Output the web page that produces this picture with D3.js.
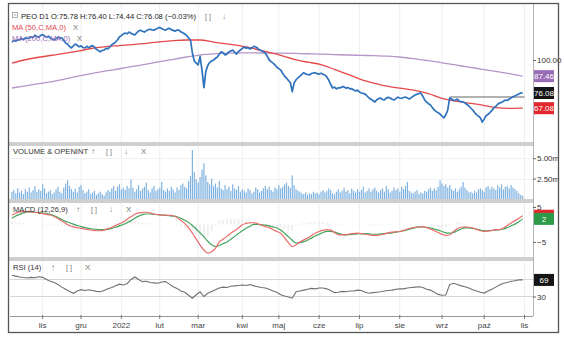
<!DOCTYPE html>
<html>
<head>
<meta charset="utf-8">
<script src="https://cdn.jsdelivr.net/npm/d3@7/dist/d3.min.js"></script>
<style>
  html, body { margin: 0; padding: 0; background: #fff; }
  svg { display: block; font-family: "Liberation Sans", Arial, sans-serif; }
</style>
</head>
<body>
<svg id="chart" width="564" height="339"></svg>
<script>
// ---------------- data ----------------
const ticker = "PEO";
const interval = "D1";
const lastOpen = 75.78, lastHigh = 76.40, lastLow = 74.44, lastChangePct = -0.03;
const startDate = "2021-10-08";
// Warsaw exchange sessions without trading
const holidays = ["2021-11-01", "2021-11-11", "2021-12-24", "2021-12-31", "2022-01-06",
  "2022-04-15", "2022-04-18", "2022-05-03", "2022-06-16", "2022-08-15", "2022-11-01", "2022-11-11"];
const monthLabels = ["lis", "gru", "2022", "lut", "mar", "kwi", "maj", "cze", "lip", "sie", "wrz", "paź", "lis"];

// daily closes
const close = [
  116, 117.5, 116.8, 118.2, 118, 119.5, 118.4, 120.1, 119.6, 120,
  121.2, 120.5, 122.8, 121.4, 120.9, 122.5, 123.4, 122, 120.6, 121.8,
  119.7, 118.9, 118, 119.4, 120.8, 119.9, 120.2, 117.6, 115.1, 114,
  111.8, 110.5, 112.3, 114.1, 113, 111.6, 112.4, 110.9, 110.5, 112,
  110.8, 111.9, 112.6, 111.4, 109.2, 108.1, 107, 108.3, 108.6, 110.2,
  109.7, 111.4, 113.5, 114.6, 116, 118.3, 121, 122.4, 124.1, 125,
  124.2, 126, 124.8, 123.9, 123, 125.3, 127.2, 128, 126.9, 126,
  127.5, 128.4, 129, 128.3, 128, 129.2, 130.1, 131, 129.8, 128.7,
  128, 129.4, 130, 128.6, 127.8, 127, 128.1, 128, 126.2, 125.3,
  124, 122.5, 120.1, 118, 106, 99, 97.5, 96, 103, 92,
  79.5, 91, 95.5, 98, 99.2, 100, 101.4, 102.5, 104.8, 107,
  106.1, 104.3, 105, 106.9, 107.8, 108.6, 106.7, 105, 107.2, 108.6,
  110.1, 111.4, 110.3, 110.8, 109.5, 110.6, 112, 111.4, 110.2, 108.6,
  107.9, 107, 106, 103.1, 100, 98.6, 97.4, 96, 94.2, 93.1,
  92, 89.6, 87.5, 86.1, 84.3, 83, 77, 82.7, 84.9, 86.3,
  87.5, 88.8, 90, 89.1, 88.7, 88.3, 89.4, 89.8, 90, 89.3,
  89, 89.6, 88.9, 88.3, 86.9, 84.7, 81.8, 79.3, 79.9, 78.7,
  79.5, 79.3, 80.2, 80, 79.1, 79.6, 78.7, 78.9, 78, 77.4,
  77.9, 76.7, 76.1, 75.8, 75.4, 74.2, 73, 72.2, 71.5, 70.6,
  71.9, 72.6, 73, 72.1, 71.8, 72.9, 73.4, 73, 72.2, 71.8,
  72.6, 73.5, 73, 72.8, 73.3, 73.6, 73, 72.4, 73.2, 74.1,
  74.8, 75.3, 75.8, 76, 74.1, 71.8, 70.5, 69.6, 68.9, 67.4,
  66.1, 65.2, 64.6, 63.9, 62.8, 61.9, 63.5, 66.1, 73, 72.4,
  71.5, 71.8, 72.3, 71.2, 70.8, 70.6, 70, 69.2, 68.3, 67.2,
  66.1, 64.7, 63.6, 62.8, 61.9, 59.8, 61.4, 63, 63.8, 64.7,
  65.9, 67.2, 68.1, 69.3, 70, 70.4, 71.1, 71.8, 71.5, 72.4,
  73, 73.8, 74.2, 74.9, 75.5, 76.1, 76.08
];

// daily volume, millions of shares
const volume = [
  0.9, 1.1, 0.7, 1.3, 0.8, 1.0, 0.6, 1.2, 0.9, 1.4,
  0.8, 1.1, 1.6, 0.9, 1.2, 1.0, 1.8, 1.3, 0.7, 0.9,
  1.1, 0.6, 0.8, 1.2, 1.5, 0.9, 0.7, 1.4, 1.9, 2.3,
  1.6, 1.2, 0.9, 1.3, 0.8, 1.5, 1.7, 1.1, 0.7, 0.9,
  1.2, 0.6, 0.8, 1.0, 0.5, 0.7, 0.9, 0.6, 0.4, 0.8,
  1.1, 0.9, 1.3, 1.6, 1.0, 1.5, 1.8, 1.2, 1.4, 1.1,
  1.6, 1.3, 2.4, 1.4, 0.9, 1.2, 1.7, 1.0, 1.3, 1.5,
  2.0, 1.1, 0.8, 1.3, 1.6, 1.0, 1.2, 1.4, 2.1, 1.1,
  0.9, 1.3, 1.0, 1.5, 1.2, 0.8, 1.4, 1.1, 1.7, 1.9,
  1.5, 1.3, 2.2, 2.8, 6.0, 3.3, 2.4, 2.0, 2.7, 3.6,
  4.4, 2.9, 2.1, 1.8, 2.5, 1.6, 1.9, 1.4, 2.2, 1.3,
  1.1, 1.7, 1.2, 1.5, 1.0, 1.8, 1.3, 1.1, 1.6, 0.9,
  1.2, 1.0, 0.8, 1.3, 1.1, 0.7, 0.9, 1.4, 1.2, 0.8,
  1.0, 1.3, 1.6, 1.2, 1.5, 1.1, 0.9, 1.4, 1.2, 1.7,
  1.3, 1.5, 1.8, 2.0, 1.6, 1.4, 2.9, 1.7, 1.2, 1.0,
  0.9, 0.7, 0.6, 0.8, 0.5, 0.7, 0.6, 0.9, 0.7, 0.8,
  0.6, 0.9, 1.1, 0.8, 1.0, 1.3, 1.1, 0.7, 0.6, 0.9,
  1.2, 0.8, 1.0, 1.4, 0.9, 1.1, 0.7, 1.3, 1.0, 0.8,
  1.2, 0.9, 1.1, 1.5, 0.8, 1.0, 1.3, 0.9, 1.2, 1.4,
  1.0, 0.8, 1.1, 1.3, 0.9, 1.6, 1.2, 0.8, 1.0, 1.4,
  1.1, 1.3, 0.9, 1.5, 1.2, 1.6, 2.1, 1.0, 0.8, 0.7,
  0.9, 1.1, 0.6, 0.8, 0.7, 1.0, 0.9, 1.2, 1.4, 1.0,
  1.3, 1.1, 1.5, 2.3, 1.9, 1.6, 1.8, 1.4, 1.7, 1.2,
  1.0, 1.3, 0.9, 1.2, 1.5, 2.1, 1.4, 1.1, 0.8, 0.9,
  0.7, 1.0, 0.8, 1.2, 1.3, 1.1, 0.9, 1.4, 1.6, 1.2,
  1.5, 1.3, 1.1, 1.7, 1.4, 1.8, 1.2, 1.5, 1.6, 1.3,
  1.7, 1.4, 1.2, 1.0, 0.7, 0.5, 0.4
];

// moving averages, one value every maStep sessions
const maStep = 7;
const ma50 = [
  97.5, 100.2, 102.3, 104, 105.8, 107.8, 110.2, 111.8, 112.6, 113.5,
  114.8, 116.2, 117.4, 118, 118, 116, 114.2, 112.3, 109.8, 107,
  104, 100.5, 98.2, 96.3, 92.5, 88.8, 85, 82.4, 80.3, 79,
  77.8, 75.7, 72.8, 71.2, 70, 68.8, 67.4, 67, 67.08
];
const ma200 = [
  79.3, 80.7, 82.2, 83.6, 85.6, 87.6, 89.5, 91.3, 93, 94.8,
  96.6, 98.6, 100.6, 102.5, 104.2, 105.2, 105.8, 106, 106, 105.9,
  105.8, 105.6, 105.3, 105, 104.6, 104.2, 103.9, 103.6, 103.2, 102.3,
  101, 99.4, 97.7, 96, 94.2, 92.6, 91, 89.3, 87.46
];

// oscillators, one value every oscStep sessions
const oscStep = 2;
const macd = [
  2.7, 3.2, 3.6, 3.7, 3.7, 3.6, 3.5, 3.3, 3.1, 2.9,
  2.7, 2.3, 1.7, 1.0, 0.3, -0.3, -0.7, -0.9, -1.1, -1.3,
  -1.5, -1.7, -1.8, -1.8, -1.6, -1.2, -0.8, -0.3, 0.2, 0.7,
  1.5, 2.2, 2.9, 3.3, 3.4, 3.5, 3.3, 3.0, 2.8, 2.7,
  2.7, 2.6, 2.5, 2.0, 1.2, 0.3, -1.0, -2.5, -4.2, -5.9,
  -7.3, -8.2, -7.8, -6.8, -5.0, -4.2, -3.4, -2.5, -1.8, -1.0,
  -0.1, 0.3, 0.5, 0.5, 0.2, -0.2, -0.6, -0.9, -1.5, -2.0,
  -2.5, -3.8, -5.2, -6.3, -5.8, -5.0, -4.4, -3.9, -3.2, -2.5,
  -2.0, -1.7, -1.5, -1.6, -2.3, -2.9, -3.0, -2.9, -2.7, -2.6,
  -2.5, -2.6, -2.8, -3.0, -3.1, -3.1, -3.0, -2.7, -2.4, -2.2,
  -2.1, -2.0, -1.7, -1.3, -1.0, -0.8, -0.7, -0.6, -0.9, -1.3,
  -1.8, -2.3, -2.8, -3.1, -3.0, -2.0, -1.2, -0.8, -0.7, -0.8,
  -1.0, -1.4, -1.8, -2.0, -1.9, -1.7, -1.5, -1.5, -1.0, -0.3,
  0.4, 1.1, 1.8, 2.5
];
const signal = [
  1.8, 2.4, 2.9, 3.3, 3.6, 3.6, 3.5, 3.4, 3.3, 3.2,
  2.9, 2.5, 2.0, 1.4, 0.9, 0.5, 0.1, -0.3, -0.6, -0.9,
  -1.1, -1.3, -1.4, -1.5, -1.5, -1.4, -1.1, -0.8, -0.4, 0.0,
  0.5, 1.1, 1.8, 2.4, 2.8, 3.0, 3.0, 2.9, 2.8, 2.7,
  2.6, 2.5, 2.4, 2.2, 1.8, 1.2, 0.6, -0.3, -1.3, -2.4,
  -3.5, -4.8, -5.8, -6.3, -6.0, -5.5, -5.0, -4.2, -3.4, -2.6,
  -1.8, -1.1, -0.5, 0.0, 0.0, -0.1, -0.2, -0.4, -0.7, -1.0,
  -1.6, -2.5, -3.5, -4.5, -5.3, -5.2, -4.9, -4.5, -3.9, -3.3,
  -2.8, -2.3, -2.0, -2.0, -2.2, -2.5, -2.8, -3.0, -2.9, -2.8,
  -2.7, -2.6, -2.6, -2.7, -2.8, -2.8, -2.7, -2.6, -2.5, -2.4,
  -2.2, -2.0, -1.8, -1.5, -1.2, -0.9, -0.7, -0.7, -0.8, -1.0,
  -1.3, -1.6, -2.0, -2.4, -2.5, -2.3, -1.8, -1.3, -1.0, -1.0,
  -1.1, -1.3, -1.6, -1.8, -1.8, -1.7, -1.6, -1.5, -1.3, -0.9,
  -0.4, 0.1, 0.8, 1.6
];
const rsi = [
  80, 78, 76, 74.5, 73.5, 75, 74, 76.5, 75, 70,
  66, 63, 58, 52, 47, 42, 37.5, 43, 46, 44,
  46, 44, 42, 41, 44, 48, 51, 55, 59, 57,
  60, 70, 76, 70, 65, 66, 63, 62, 61, 64,
  65, 59, 53, 49, 43, 40, 33, 26, 34, 41,
  30, 37.5, 42, 46, 50, 52, 51, 54, 55, 56,
  57, 56, 58, 55, 53, 51, 50, 47, 43, 40,
  34, 31, 29, 26, 41, 43, 45, 47, 49, 48,
  50, 50, 48, 44, 39, 40, 42, 41, 43, 43,
  45, 44, 40, 37.5, 39, 40, 41, 43, 44, 45,
  47, 48, 48, 50, 51, 52, 53, 51, 47, 45,
  40, 35, 33, 33.5, 58, 61, 58, 55, 53, 50,
  46, 43, 40, 38, 43, 47, 52, 57, 61, 63,
  66, 67, 69, 69
];

// horizontal level drawn on the price panel
const levelValue = 73.6;
const levelFrom = "2022-09-07";
const levelTo = "2022-11-02";

const priceTicks = [100];
const volumeTicks = [2.5, 5];
const macdTicks = [5, -5];
const rsiLevels = [30, 70];
const rsiTickLabels = [30];

// ---------------- layout ----------------
const X0 = 10, X1 = 533;
const P = { top: 4, bottom: 142 };
const V = { top: 146, bottom: 199 };
const M = { top: 203, bottom: 257 };
const R = { top: 261, bottom: 316 };

const C = {
  price: "#2f72bd",
  ma50: "#e5484b",
  ma200: "#b795c9",
  ma200Tag: "#9a6cb5",
  vol: "#80b3e0",
  macd: "#ea6b6b",
  signal: "#3fa55d",
  rsi: "#707070",
  grid: "#efefef",
  sep: "#cfcfcf",
  text: "#333"
};

const svg = d3.select("#chart");
const parse = d3.utcParse("%Y-%m-%d");
const fmtDay = d3.utcFormat("%Y-%m-%d");
const holidaySet = new Set(holidays);

// trading calendar, running a little past the last session
const sessions = [];
for (let d = parse(startDate); sessions.length < close.length + 10; d = d3.utcDay.offset(d, 1)) {
  const wd = d.getUTCDay();
  if (wd === 0 || wd === 6 || holidaySet.has(fmtDay(d))) continue;
  sessions.push(d);
}
const sessionIndex = s => sessions.findIndex(d => fmtDay(d) === s);

const monthStarts = [];
for (let i = 1; i < sessions.length; i++) {
  if (sessions[i].getUTCMonth() !== sessions[i - 1].getUTCMonth()) monthStarts.push(i);
}
const ticks = monthStarts.slice(0, monthLabels.length).map((i, k) => ({ i, label: monthLabels[k] }));

const x = d3.scaleLinear().domain([-1, close.length + 4.4]).range([X0, X1]);
const yP = d3.scaleLog().domain([50.7, 159]).range([P.bottom, P.top]);
const yV = d3.scaleLinear().domain([0, 6.5]).range([V.bottom, V.top]);
const yM = d3.scaleLinear().domain([-9.3, 6.14]).range([M.bottom, M.top]);
const yR = d3.scaleLinear().domain([-15.9, 113.5]).range([R.bottom, R.top]);

// ---------------- frame & grid ----------------
const defs = svg.append("defs");
[["clipP", P], ["clipV", V], ["clipM", M], ["clipR", R]].forEach(([id, b]) => {
  defs.append("clipPath").attr("id", id)
    .append("rect").attr("x", X0).attr("y", b.top).attr("width", X1 - X0).attr("height", b.bottom - b.top);
});

const gGrid = svg.append("g");
[P, V, M, R].forEach(b => {
  gGrid.selectAll(null).data(ticks).enter().append("line")
    .attr("x1", d => x(d.i)).attr("x2", d => x(d.i))
    .attr("y1", b.top).attr("y2", b.bottom)
    .attr("stroke", C.grid).attr("stroke-width", 1);
});
// RSI reference levels
gGrid.selectAll(null).data(rsiLevels).enter().append("line")
  .attr("x1", X0).attr("x2", X1)
  .attr("y1", d => Math.round(yR(d)) + 0.5).attr("y2", d => Math.round(yR(d)) + 0.5)
  .attr("stroke", "#d6d6d6");
// volume levels
gGrid.selectAll(null).data(volumeTicks).enter().append("line")
  .attr("x1", X0).attr("x2", X1)
  .attr("y1", d => Math.round(yV(d)) + 0.5).attr("y2", d => Math.round(yV(d)) + 0.5)
  .attr("stroke", "#f2f2f2");

// panel separators
[[P.bottom, V.top], [V.bottom, M.top], [M.bottom, R.top]].forEach(([a, b]) => {
  svg.append("rect").attr("x", 9).attr("y", a).attr("width", X1 - 9).attr("height", b - a)
    .attr("fill", C.sep);
});
// right axis boundary
svg.append("line").attr("x1", X1 + 0.5).attr("x2", X1 + 0.5).attr("y1", P.top).attr("y2", R.bottom)
  .attr("stroke", "#b5b5b5");

// ---------------- price panel ----------------
const gP = svg.append("g").attr("clip-path", "url(#clipP)");
const maLine = d3.line().x((d, k) => x(k * maStep)).y(d => yP(d)).curve(d3.curveMonotoneX);
gP.append("path").attr("d", maLine(ma200)).attr("fill", "none")
  .attr("stroke", C.ma200).attr("stroke-width", 1.3);
gP.append("path").attr("d", maLine(ma50)).attr("fill", "none")
  .attr("stroke", C.ma50).attr("stroke-width", 1.3);
gP.append("line")
  .attr("x1", x(sessionIndex(levelFrom))).attr("x2", x(sessionIndex(levelTo)))
  .attr("y1", yP(levelValue)).attr("y2", yP(levelValue))
  .attr("stroke", "#666").attr("stroke-width", 1.1);
gP.append("path")
  .attr("d", d3.line().x((d, i) => x(i)).y(d => yP(d))(close))
  .attr("fill", "none").attr("stroke", C.price).attr("stroke-width", 1.7)
  .attr("stroke-linejoin", "round");

// ---------------- volume panel ----------------
const gV = svg.append("g").attr("clip-path", "url(#clipV)");
gV.selectAll(null).data(volume).enter().append("rect")
  .attr("x", (d, i) => x(i) - 0.6).attr("width", 1.2)
  .attr("y", d => yV(d)).attr("height", d => yV(0) - yV(d))
  .attr("fill", C.vol);

// ---------------- MACD panel ----------------
const gM = svg.append("g").attr("clip-path", "url(#clipM)");
gM.selectAll(null).data(macd).enter().append("rect")
  .attr("x", (d, k) => x(k * oscStep) - 1).attr("width", 2)
  .attr("y", (d, k) => Math.min(yM(0), yM(d - signal[k])))
  .attr("height", (d, k) => Math.abs(yM(d - signal[k]) - yM(0)))
  .attr("fill", "#efefef");
const oscLine = d3.line().x((d, k) => x(k * oscStep)).curve(d3.curveMonotoneX);
gM.append("path").attr("d", oscLine.y(d => yM(d))(signal)).attr("fill", "none")
  .attr("stroke", C.signal).attr("stroke-width", 1.2);
gM.append("path").attr("d", oscLine.y(d => yM(d))(macd)).attr("fill", "none")
  .attr("stroke", C.macd).attr("stroke-width", 1.2);

// ---------------- RSI panel ----------------
const gR = svg.append("g").attr("clip-path", "url(#clipR)");
gR.append("path").attr("d", d3.line().x((d, k) => x(k * oscStep)).y(d => yR(d))(rsi))
  .attr("fill", "none").attr("stroke", C.rsi).attr("stroke-width", 1.1);

// ---------------- right axes ----------------
function rightAxis(scale, values, format) {
  const g = svg.append("g").attr("transform", `translate(${X1},0)`)
    .call(d3.axisRight(scale).tickValues(values).tickFormat(format).tickSize(3).tickPadding(1));
  g.select(".domain").remove();
  g.selectAll("line").attr("stroke", "#666");
  g.selectAll("text").attr("font-size", 8).attr("fill", C.text)
    .attr("font-family", "Liberation Sans, Arial, sans-serif");
}
rightAxis(yP, priceTicks, d3.format(".2f"));
rightAxis(yV, volumeTicks, d => d3.format(".2f")(d) + "m");
rightAxis(yM, macdTicks, d3.format("d"));
rightAxis(yR, rsiTickLabels, d3.format("d"));

function tag(y, text, fill) {
  const h = 12;
  const g = svg.append("g");
  g.append("rect").attr("x", X1 + 1).attr("y", y - h / 2).attr("width", 20).attr("height", h)
    .attr("fill", fill);
  if (text) {
    g.append("text").attr("x", X1 + 11).attr("y", y + 3).attr("text-anchor", "middle")
      .attr("font-size", 8).attr("fill", "#fff").text(text);
  }
}
const last = a => a[a.length - 1];
tag(yP(last(ma200)), d3.format(".2f")(last(ma200)), C.ma200Tag);
tag(yP(last(close)), d3.format(".2f")(last(close)), "#151515");
tag(yP(last(ma50)), d3.format(".2f")(last(ma50)), "#e2262d");
// the MACD tag sits underneath the signal tag, so only its colour shows
tag(yM(last(macd)), null, "#e2262d");
tag(yM(last(signal)), d3.format(".0f")(last(signal)), "#2c9a48");
tag(yR(last(rsi)), d3.format(".0f")(last(rsi)), "#151515");

// ---------------- time axis ----------------
const gX = svg.append("g");
gX.append("line").attr("x1", X0).attr("x2", X1).attr("y1", R.bottom + 0.5).attr("y2", R.bottom + 0.5)
  .attr("stroke", "#999");
gX.selectAll(null).data(ticks).enter().append("line")
  .attr("x1", d => x(d.i)).attr("x2", d => x(d.i))
  .attr("y1", R.bottom - 1).attr("y2", R.bottom + 3).attr("stroke", "#777");
gX.selectAll(null).data(ticks).enter().append("text")
  .attr("x", d => x(d.i)).attr("y", R.bottom + 12).attr("text-anchor", "middle")
  .attr("font-size", 8).attr("fill", "#444").text(d => d.label);

// ---------------- panel titles ----------------
function title(xp, yp, txt, color, size) {
  return svg.append("text").attr("x", xp).attr("y", yp).attr("font-size", size || 7.6)
    .attr("fill", color || C.text).text(txt);
}
const f2 = d3.format(".2f");
// collapse box icon
svg.append("rect").attr("x", 12.5).attr("y", 12.5).attr("width", 5).attr("height", 5)
  .attr("fill", "none").attr("stroke", "#999").attr("stroke-width", 0.8);
svg.append("line").attr("x1", 13.8).attr("x2", 16.2).attr("y1", 15).attr("y2", 15)
  .attr("stroke", "#999").attr("stroke-width", 0.8);
title(21, 18.5, `${ticker}  ${interval}  O:${f2(lastOpen)}  H:${f2(lastHigh)}  L:${f2(lastLow)}  C:${f2(last(close))}  (${f2(lastChangePct)}%)`, "#222");
title(205, 18.5, "[ ]", "#777", 7);
title(222, 18.5, "↓", "#777", 8);
title(12, 30, "MA (50,C,MA,0)", C.ma50);
title(73, 30, "X", "#777");
title(12, 41, "MA (200,C,MA,0)", C.ma200Tag);
title(77, 41, "X", "#777");

function panelTitle(yp, txt, icons) {
  title(13, yp, txt, "#333");
  icons.forEach(([xp, s]) => title(xp, yp, s, "#777", s === "[ ]" ? 7 : 8));
}
panelTitle(V.top + 8, "VOLUME & OPENINT", [[91, "↑"], [106, "[ ]"], [124, "↓"], [141, "X"]]);
panelTitle(M.top + 9, "MACD (12,26,9)", [[76, "↑"], [91, "[ ]"], [109, "↓"], [126, "X"]]);
panelTitle(R.top + 9, "RSI (14)", [[51, "↑"], [66, "[ ]"], [85, "X"]]);

// outer frame
svg.append("rect").attr("x", 8.5).attr("y", 3.5).attr("width", 550).attr("height", 329)
  .attr("fill", "none").attr("stroke", "#555").attr("stroke-width", 1.3);
</script>
</body>
</html>
